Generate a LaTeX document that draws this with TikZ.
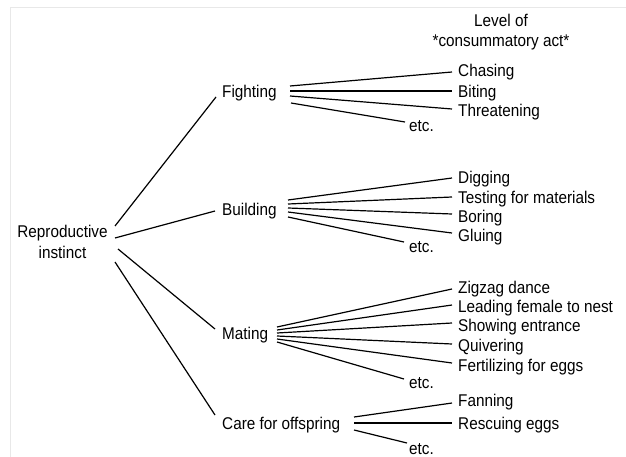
\documentclass[tikz,border=0pt]{standalone}
\usepackage{fontspec}
\setmainfont{Liberation Sans}[FakeStretch=0.9]
\begin{document}
\begin{tikzpicture}[x=1pt,y=-1pt,
  lbl/.style={anchor=west,inner sep=0pt,font=\fontsize{17}{20}\selectfont,text height=12.2pt,text depth=0pt},
  multi/.style={inner sep=0pt,align=center,font=\fontsize{17}{20.5}\selectfont},
  conn/.style={line width=1.2pt,black},
  frame/.style={black!9,line width=0.8pt}]
\useasboundingbox (0,0) rectangle (626,457);
\draw[frame] (10,457) -- (10,7) -- (626,7);
% header
\node[multi] (hdr) at (501,32) {Level of\\*consummatory act*};
% root
\node[multi] (root) at (62.5,242) {Reproductive\\instinct};
% second level
\node[lbl] (fight) at (222,91) {Fighting};
\node[lbl] (build) at (222,209) {Building};
\node[lbl] (mate) at (222,333) {Mating};
\node[lbl] (care) at (222,423) {Care for offspring};
% fighting acts
\node[lbl] (chase) at (458,70) {Chasing};
\node[lbl] (bite) at (458,91) {Biting};
\node[lbl] (threat) at (458,110) {Threatening};
\node[lbl] (etcf) at (409,125) {etc.};
% building acts
\node[lbl] (dig) at (458,177) {Digging};
\node[lbl] (test) at (458,197) {Testing for materials};
\node[lbl] (bore) at (458,216) {Boring};
\node[lbl] (glue) at (458,235) {Gluing};
\node[lbl] (etcb) at (409,246) {etc.};
% mating acts
\node[lbl] (zig) at (458,287) {Zigzag dance};
\node[lbl] (lead) at (458,306) {Leading female to nest};
\node[lbl] (show) at (458,325) {Showing entrance};
\node[lbl] (quiv) at (458,345) {Quivering};
\node[lbl] (fert) at (458,365) {Fertilizing for eggs};
\node[lbl] (etcm) at (409,382) {etc.};
% care acts
\node[lbl] (fan) at (458,400) {Fanning};
\node[lbl] (resc) at (458,423) {Rescuing eggs};
\node[lbl] (etcc) at (409,448) {etc.};
% root connectors
\draw[conn] ([shift={(52.5,-16)}]root.center) -- ([shift={(-6,6)}]fight.west);
\draw[conn] ([shift={(52.5,-4)}]root.center) -- ([shift={(-7,2)}]build.west);
\draw[conn] ([shift={(55.5,7)}]root.center) -- ([shift={(-7,-4)}]mate.west);
\draw[conn] ([shift={(52.5,20)}]root.center) -- ([shift={(-7,-8)}]care.west);
% fighting fan
\draw[conn] ([shift={(68,-5)}]fight.west) -- ([shift={(-6,2)}]chase.west);
\draw[conn] ([shift={(68,0)}]fight.west) -- ([shift={(-6,0)}]bite.west);
\draw[conn] ([shift={(68,5)}]fight.west) -- ([shift={(-6,-1)}]threat.west);
\draw[conn] ([shift={(69,12)}]fight.west) -- ([shift={(-4,-3)}]etcf.west);
% building fan
\draw[conn] ([shift={(66,-9)}]build.west) -- ([shift={(-6,1)}]dig.west);
\draw[conn] ([shift={(66,-5)}]build.west) -- ([shift={(-6,0)}]test.west);
\draw[conn] ([shift={(66,-1)}]build.west) -- ([shift={(-6,-2)}]bore.west);
\draw[conn] ([shift={(66,3)}]build.west) -- ([shift={(-6,-2)}]glue.west);
\draw[conn] ([shift={(66,8)}]build.west) -- ([shift={(-5,-4)}]etcb.west);
% mating fan
\draw[conn] ([shift={(55,-6)}]mate.west) -- ([shift={(-6,2)}]zig.west);
\draw[conn] ([shift={(55,-3)}]mate.west) -- ([shift={(-6,-1)}]lead.west);
\draw[conn] ([shift={(55,0)}]mate.west) -- ([shift={(-6,-2)}]show.west);
\draw[conn] ([shift={(55,3)}]mate.west) -- ([shift={(-6,-1)}]quiv.west);
\draw[conn] ([shift={(55,6)}]mate.west) -- ([shift={(-6,-2)}]fert.west);
\draw[conn] ([shift={(55,9)}]mate.west) -- ([shift={(-5,-3)}]etcm.west);
% care fan
\draw[conn] ([shift={(132,-6)}]care.west) -- ([shift={(-6,3)}]fan.west);
\draw[conn] ([shift={(132,0)}]care.west) -- ([shift={(-6,0)}]resc.west);
\draw[conn] ([shift={(132,7)}]care.west) -- ([shift={(-2,-5)}]etcc.west);
\end{tikzpicture}
\end{document}
